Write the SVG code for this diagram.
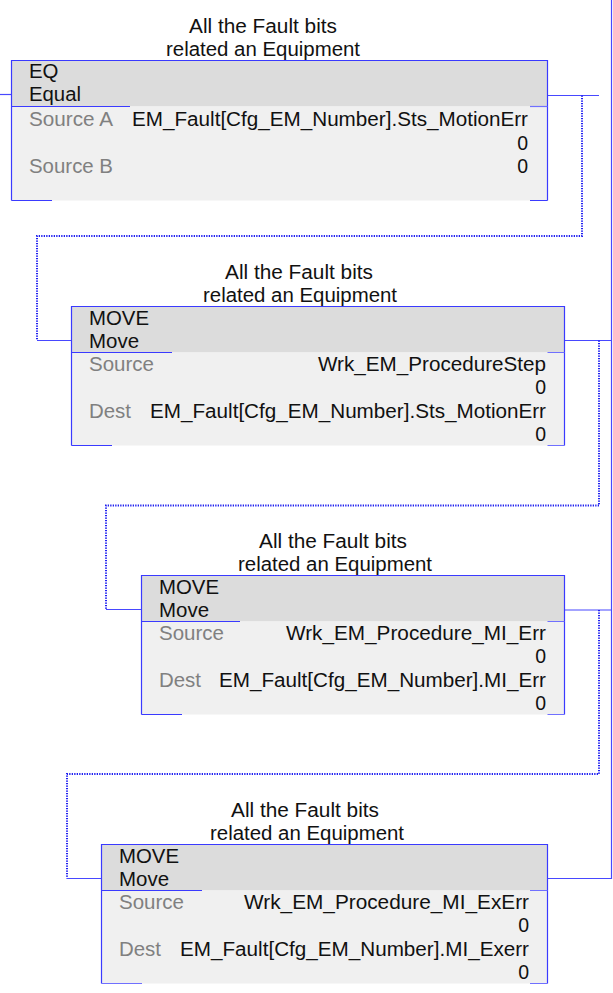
<svg xmlns="http://www.w3.org/2000/svg" width="613" height="993" viewBox="0 0 613 993">
<style>
text{font-family:"Liberation Sans",Arial,sans-serif;font-size:19.5px;fill:#111}
.lbl{fill:#808080}
.ttl{text-anchor:middle}
.val{text-anchor:end}
.hdr{fill:#dcdcdc}
.body{fill:#f0f0f0}
.bd{stroke:#3a3aff;stroke-width:1.2;fill:none}
.lt{stroke:#7070ff;stroke-width:1.2;fill:none}
.wire{stroke:#4848ff;stroke-width:1.2;fill:none}
.dot{stroke:#1f1ff0;stroke-width:2;stroke-dasharray:1.3 1.2;fill:none}
</style>
<rect width="613" height="993" fill="#fff"/>
<g id="connectors">
<path class="wire" d="M0 94.5H11.5"/>
<path class="wire" d="M547.5 95.5H599"/>
<path class="dot" d="M582 95.5V236H37V340.5"/>
<path class="wire" d="M37 340.5H71.5"/>
<path class="wire" d="M564.5 340.5H611.5"/>
<path class="dot" d="M599 340.5V505.5H106V609.5"/>
<path class="wire" d="M106 609.5H141.5"/>
<path class="wire" d="M564.5 610H611.5"/>
<path class="dot" d="M599 610V774H67V878.5"/>
<path class="wire" d="M67 878.5H101.5"/>
<path class="wire" d="M547.5 878.5H611.5V0"/>
</g>
<g id="eq">
<text class="ttl" x="263" y="33" textLength="148" lengthAdjust="spacingAndGlyphs">All the Fault bits</text>
<text class="ttl" x="263" y="56" textLength="194" lengthAdjust="spacingAndGlyphs">related an Equipment</text>
<rect class="hdr" x="11.5" y="60.5" width="536" height="46"/>
<rect class="body" x="11.5" y="106.5" width="536" height="94"/>
<path class="bd" d="M11.5 200.5V60.5H547.5V200.5"/>
<path class="bd" d="M11.5 106.5H130M11.5 200.5H52M530 200.5H547.5"/>
<path class="lt" d="M530 106.5H547.5"/>
<text x="29" y="78" textLength="29.5" lengthAdjust="spacingAndGlyphs">EQ</text>
<text x="29" y="101" textLength="52" lengthAdjust="spacingAndGlyphs">Equal</text>
<text class="lbl" x="29" y="126" textLength="84" lengthAdjust="spacingAndGlyphs">Source A</text>
<text class="val" x="528" y="126" textLength="396" lengthAdjust="spacingAndGlyphs">EM_Fault[Cfg_EM_Number].Sts_MotionErr</text>
<text class="val" x="528" y="149.5">0</text>
<text class="lbl" x="29" y="173" textLength="84" lengthAdjust="spacingAndGlyphs">Source B</text>
<text class="val" x="528" y="173">0</text>
</g>
<g id="move1">
<text class="ttl" x="299" y="279" textLength="148" lengthAdjust="spacingAndGlyphs">All the Fault bits</text>
<text class="ttl" x="300" y="302" textLength="194" lengthAdjust="spacingAndGlyphs">related an Equipment</text>
<rect class="hdr" x="71.5" y="306.5" width="493" height="46"/>
<rect class="body" x="71.5" y="352.5" width="493" height="93"/>
<path class="bd" d="M71.5 445.5V306.5H564.5V445.5"/>
<path class="bd" d="M71.5 352.5H172M71.5 445.5H112"/>
<path class="lt" d="M547.5 352.5H564.5M547.5 445.5H564.5"/>
<text x="89" y="325" textLength="60" lengthAdjust="spacingAndGlyphs">MOVE</text>
<text x="89" y="348" textLength="50" lengthAdjust="spacingAndGlyphs">Move</text>
<text class="lbl" x="89" y="371" textLength="65" lengthAdjust="spacingAndGlyphs">Source</text>
<text class="val" x="546" y="371" textLength="228" lengthAdjust="spacingAndGlyphs">Wrk_EM_ProcedureStep</text>
<text class="val" x="546" y="394">0</text>
<text class="lbl" x="89" y="417.5" textLength="42" lengthAdjust="spacingAndGlyphs">Dest</text>
<text class="val" x="546" y="417.5" textLength="396" lengthAdjust="spacingAndGlyphs">EM_Fault[Cfg_EM_Number].Sts_MotionErr</text>
<text class="val" x="546" y="441">0</text>
</g>
<g id="move2">
<text class="ttl" x="333" y="548" textLength="148" lengthAdjust="spacingAndGlyphs">All the Fault bits</text>
<text class="ttl" x="335" y="571" textLength="194" lengthAdjust="spacingAndGlyphs">related an Equipment</text>
<rect class="hdr" x="141.5" y="575.5" width="423" height="46"/>
<rect class="body" x="141.5" y="621.5" width="423" height="93"/>
<path class="bd" d="M141.5 714.5V575.5H564.5V714.5"/>
<path class="bd" d="M141.5 621.5H240M141.5 714.5H182"/>
<path class="lt" d="M547.5 621.5H564.5M547.5 714.5H564.5"/>
<text x="159" y="594" textLength="60" lengthAdjust="spacingAndGlyphs">MOVE</text>
<text x="159" y="617" textLength="50" lengthAdjust="spacingAndGlyphs">Move</text>
<text class="lbl" x="159" y="640" textLength="65" lengthAdjust="spacingAndGlyphs">Source</text>
<text class="val" x="546" y="640" textLength="260" lengthAdjust="spacingAndGlyphs">Wrk_EM_Procedure_MI_Err</text>
<text class="val" x="546" y="663">0</text>
<text class="lbl" x="159" y="686.5" textLength="42" lengthAdjust="spacingAndGlyphs">Dest</text>
<text class="val" x="546" y="686.5" textLength="327" lengthAdjust="spacingAndGlyphs">EM_Fault[Cfg_EM_Number].MI_Err</text>
<text class="val" x="546" y="710">0</text>
</g>
<g id="move3">
<text class="ttl" x="305" y="817" textLength="148" lengthAdjust="spacingAndGlyphs">All the Fault bits</text>
<text class="ttl" x="307" y="840" textLength="194" lengthAdjust="spacingAndGlyphs">related an Equipment</text>
<rect class="hdr" x="101.5" y="844.5" width="446" height="46"/>
<rect class="body" x="101.5" y="890.5" width="446" height="93"/>
<path class="bd" d="M101.5 983.5V844.5H547.5V983.5"/>
<path class="bd" d="M101.5 890.5H202"/>
<path class="lt" d="M101.5 983.5H142M530 890.5H547.5M530 983.5H547.5"/>
<text x="119" y="863" textLength="60" lengthAdjust="spacingAndGlyphs">MOVE</text>
<text x="119" y="886" textLength="50" lengthAdjust="spacingAndGlyphs">Move</text>
<text class="lbl" x="119" y="909" textLength="65" lengthAdjust="spacingAndGlyphs">Source</text>
<text class="val" x="529" y="909" textLength="285" lengthAdjust="spacingAndGlyphs">Wrk_EM_Procedure_MI_ExErr</text>
<text class="val" x="529" y="932">0</text>
<text class="lbl" x="119" y="955.5" textLength="42" lengthAdjust="spacingAndGlyphs">Dest</text>
<text class="val" x="529" y="955.5" textLength="349" lengthAdjust="spacingAndGlyphs">EM_Fault[Cfg_EM_Number].MI_Exerr</text>
<text class="val" x="529" y="979">0</text>
</g>
</svg>
